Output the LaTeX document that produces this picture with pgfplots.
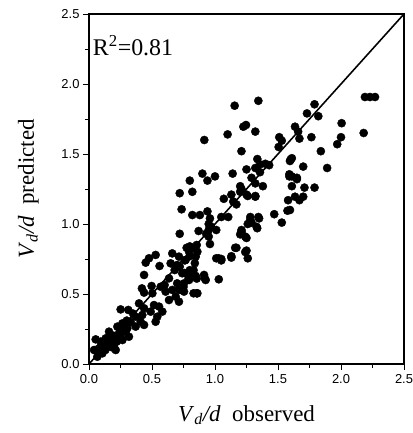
\documentclass[border=0pt]{standalone}
\usepackage{fontspec}
\setmainfont{Liberation Serif}
\setsansfont{Liberation Sans}
\usepackage{pgfplots}
\pgfplotsset{compat=1.18}

\begin{document}
\begin{tikzpicture}
\begin{axis}[
    width=315bp, height=350bp,
    scale only axis,
    xmin=0, xmax=2.5,
    ymin=0, ymax=2.5,
    xtick={0,0.5,...,2.5},
    ytick={0,0.5,...,2.5},
    minor tick num=1,
    tick pos=left,
    tick align=outside,
    major tick length=6bp,
    minor tick length=4bp,
    axis line style={line width=1.2pt},
    every tick/.style={black, line width=1pt},
    /pgf/number format/.cd, fixed, fixed zerofill, precision=1, assume math mode=true,
    /pgfplots/.cd,
    ticklabel style={font=\fontsize{13}{13}\sffamily\selectfont},
    xticklabel style={yshift=-1bp},
    xlabel={\textit{V}\textsubscript{\textit{d}}\textit{/d}~~observed},
    ylabel={\textit{V}\textsubscript{\textit{d}}\textit{/d}~~predicted},
    label style={font=\fontsize{23}{23}\selectfont},
    xlabel style={at={(axis description cs:0.5,-0.163)}, anchor=base},
    ylabel style={at={(axis description cs:-0.175,0.5)}, anchor=base, rotate=0},
    clip=false,
]
% identity line
\addplot[black, line width=1.6pt] coordinates {(0,0)(2.5,2.5)};

\addplot[only marks, mark=*, mark size=4.1pt, black] coordinates {
(0.476,0.755)(0.529,0.779)(0.450,0.724)(0.560,0.700)(0.661,0.790)(0.714,0.767)
(0.648,0.719)(0.700,0.707)(0.767,0.743)(0.794,0.802)(0.847,0.767)(0.860,0.802)
(0.680,0.671)(0.740,0.648)(0.794,0.648)(0.847,0.629)(0.913,0.636)(0.926,0.600)
(0.794,0.600)(0.635,0.612)(0.700,0.576)(0.754,0.576)(0.437,0.636)(0.860,0.505)
(0.497,0.557)(0.569,0.552)(0.437,0.510)(0.503,0.505)(0.608,0.517)(0.661,0.529)
(0.714,0.533)(0.754,0.517)(0.688,0.481)(0.635,0.457)(0.714,0.445)(0.397,0.433)
(0.437,0.398)(0.489,0.374)(0.423,0.350)(0.516,0.421)(0.556,0.410)(0.582,0.374)
(0.542,0.338)(0.529,0.302)(0.251,0.390)(0.312,0.386)(0.370,0.338)(0.410,0.302)
(0.370,0.267)(0.437,0.279)(0.265,0.290)(0.225,0.267)(0.304,0.255)(0.238,0.219)
(0.265,0.171)(0.317,0.195)(0.159,0.231)(0.185,0.195)(0.132,0.183)(0.146,0.148)
(0.198,0.136)(0.093,0.160)(0.053,0.176)(0.079,0.112)(0.106,0.076)(0.066,0.052)
(0.040,0.100)(0.212,0.100)(0.185,0.160)(0.291,0.231)
(0.12,0.12)(0.15,0.18)(0.20,0.20)(0.22,0.16)(0.17,0.21)(0.28,0.26)(0.33,0.30)
(0.35,0.36)(0.30,0.31)(0.10,0.14)(0.08,0.09)(0.13,0.10)(0.25,0.20)(0.18,0.12)
(0.72,0.695)(0.80,0.67)(0.84,0.72)(0.60,0.564)(0.42,0.54)
(0.80,0.84)(0.855,0.85)(1.03,0.755)(1.05,0.74)(1.13,0.77)(1.17,0.83)(1.24,0.80)
(1.03,0.605)(0.855,0.505)
(0.90,1.36)(1.00,1.34)(1.14,1.36)(1.25,1.39)(1.357,1.37)(0.80,1.31)(0.94,1.31)
(0.82,1.23)(0.72,1.22)(1.29,1.33)(1.32,1.29)(1.38,1.27)(1.21,1.25)(1.13,1.21)
(1.07,1.18)(1.145,1.16)(1.17,1.14)(1.26,1.20)(1.32,1.20)(1.59,1.34)(1.65,1.32)
(1.575,1.095)(1.47,1.07)(1.53,1.01)(1.28,1.03)(1.35,1.04)(1.26,1.00)(1.335,0.97)
(1.21,0.957)(1.20,0.926)(1.25,0.90)(0.735,1.105)(0.82,1.064)(0.88,1.064)(0.94,1.09)
(0.96,1.04)(0.95,1.00)(1.05,1.05)(1.105,1.05)(0.87,0.95)(0.95,0.957)(1.01,0.957)
(0.72,0.93)(0.95,0.91)(0.96,0.857)(0.775,0.83)(0.84,0.826)(0.80,0.77)(0.76,0.74)
(1.16,0.83)(1.25,0.81)(1.26,0.755)(1.01,0.755)(1.05,0.75)(1.13,0.76)(0.83,0.67)
(0.76,0.65)(0.79,0.61)(0.855,0.61)(0.92,0.61)(0.75,0.55)(0.72,0.53)(0.83,0.505)
(0.97,0.98)(0.93,0.93)
(1.156,1.845)(1.344,1.880)(0.915,1.600)(1.10,1.64)(1.225,1.695)(1.246,1.707)
(1.32,1.66)(1.21,1.52)(1.336,1.464)(1.357,1.426)(1.43,1.42)(1.32,1.40)(1.51,1.62)
(1.53,1.595)(1.505,1.55)(1.60,1.46)(1.59,1.355)
(1.595,1.45)(1.58,1.17)(1.20,1.27)(1.25,1.21)(1.32,1.195)(1.40,1.43)(1.28,1.05)
(1.344,1.05)(1.29,1.01)(1.33,0.98)(1.21,0.945)(1.24,0.91)(1.20,1.23)
(2.19,1.907)(2.23,1.907)(2.27,1.907)(2.18,1.65)(2.005,1.72)(2.00,1.62)(1.97,1.57)
(1.84,1.52)(1.89,1.40)(1.79,1.855)(1.73,1.79)(1.82,1.77)(1.635,1.695)(1.66,1.66)
(1.67,1.61)(1.765,1.62)(1.61,1.47)(1.70,1.41)(1.61,1.34)(1.65,1.33)(1.61,1.27)
(1.71,1.26)(1.79,1.26)(1.635,1.195)(1.70,1.195)(1.67,1.17)(1.595,1.10)
};

\node[anchor=base west, font=\fontsize{24}{24}\selectfont, inner sep=0pt]
    at (axis cs:0.03,2.207) {R\textsuperscript{2}=0.81};
\end{axis}
\pgfresetboundingbox
\path ([shift={(-89bp,-69bp)}]current axis.south west) rectangle ([shift={(9bp,14bp)}]current axis.north east);
\end{tikzpicture}
\end{document}
